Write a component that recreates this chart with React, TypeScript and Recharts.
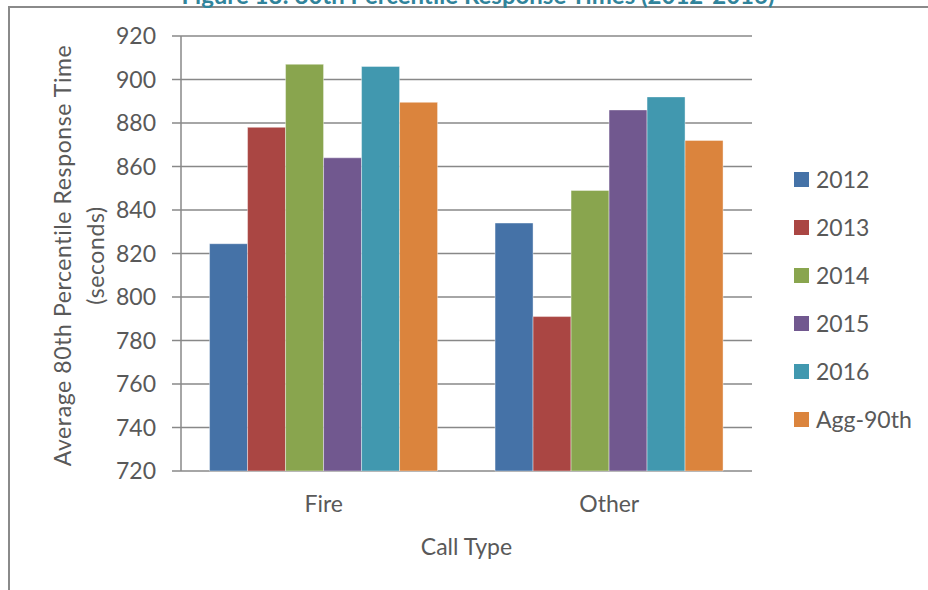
import { BarChart, Bar, XAxis, YAxis, CartesianGrid, Legend } from 'recharts';

// Average 80th percentile response time (seconds) by call type
const callTypes = ['Fire', 'Other'];
const seriesNames = ['2012', '2013', '2014', '2015', '2016', 'Agg-90th'];
const y2012 = [824.5, 834];
const y2013 = [878, 791];
const y2014 = [907, 849];
const y2015 = [864, 886];
const y2016 = [906, 892];
const agg90th = [889.5, 872];
const yTicks = [720, 740, 760, 780, 800, 820, 840, 860, 880, 900, 920];

const seriesValues = [y2012, y2013, y2014, y2015, y2016, agg90th];
const COLORS = ['#4572A7', '#AA4643', '#89A54E', '#71588F', '#4198AF', '#DB843D'];

const data = callTypes.map((type, i) => {
  const row: Record<string, string | number> = { type };
  seriesNames.forEach((name, s) => {
    row[name] = seriesValues[s][i];
  });
  return row;
});

const FONT = 'Lato, "Open Sans", sans-serif';
const TEXT = '#595959';
const LINE = '#888888';
const FS = 23;

function LegendList({ payload }: any) {
  return (
    <div style={{ fontFamily: FONT }}>
      {(payload || []).map((item: any) => (
        <div key={item.value} style={{ display: 'flex', alignItems: 'center', height: 48 }}>
          <span style={{ width: 15, height: 15, background: item.color, marginRight: 7 }} />
          <span style={{ fontSize: FS, color: TEXT }}>{item.value}</span>
        </div>
      ))}
    </div>
  );
}

function YTitle({ viewBox }: any) {
  const cy = viewBox.y + viewBox.height / 2 + 2;
  const lines = [
    { x: 62, text: 'Average 80th Percentile Response Time' },
    { x: 95, text: '(seconds)' },
  ];
  return (
    <g>
      {lines.map((l) => (
        <text
          key={l.text}
          x={l.x}
          y={cy}
          transform={`rotate(-90, ${l.x}, ${cy})`}
          textAnchor="middle"
          dominantBaseline="central"
          fill={TEXT}
          fontSize={FS}
          letterSpacing={0.6}
          fontFamily={FONT}
        >
          {l.text}
        </text>
      ))}
    </g>
  );
}

function XTitle({ viewBox }: any) {
  return (
    <text
      x={viewBox.x + viewBox.width / 2}
      y={viewBox.y + 84}
      textAnchor="middle"
      fill={TEXT}
      fontSize={FS}
      fontFamily={FONT}
    >
      Call Type
    </text>
  );
}

export default function App() {
  return (
    <div style={{ position: 'fixed', left: 0, top: 0, width: 928, height: 590, overflow: 'hidden', background: '#fff' }}>
      <div
        style={{
          position: 'absolute',
          left: 8,
          top: 6,
          width: 1400,
          height: 900,
          border: '2px solid #8a8a8a',
        }}
      />
      <div
        style={{
          position: 'absolute',
          left: 0,
          width: 956,
          top: -20,
          textAlign: 'center',
          fontFamily: FONT,
          fontWeight: 700,
          fontSize: 24,
          color: '#31849B',
          whiteSpace: 'nowrap',
        }}
      >
        Figure 13: 80th Percentile Response Times (2012-2016)
      </div>
      <div style={{ position: 'absolute', left: 0, top: 0 }}>
        <BarChart
          width={928}
          height={590}
          data={data}
          margin={{ top: 36, right: 176, left: 0, bottom: 0 }}
          barCategoryGap="10%"
          barGap={0}
        >
          <CartesianGrid vertical={false} stroke={LINE} strokeWidth={1.5} />
          <XAxis
            xAxisId="edge"
            type="number"
            domain={[0, 2]}
            ticks={[0, 1, 2]}
            height={0}
            tick={false}
            tickSize={9}
            stroke={LINE}
            strokeWidth={1.5}
          />
          <XAxis
            xAxisId="cat"
            dataKey="type"
            height={119}
            axisLine={false}
            tickLine={false}
            tickSize={0}
            tickMargin={25}
            tick={{ fill: TEXT, fontSize: FS, fontFamily: FONT }}
            label={{ content: XTitle }}
          />
          <YAxis
            width={181}
            domain={[720, 920]}
            ticks={yTicks}
            interval={0}
            tickSize={9}
            tickMargin={16}
            stroke={LINE}
            strokeWidth={1.5}
            tick={{ fill: TEXT, fontSize: FS, fontFamily: FONT }}
            label={{ content: YTitle }}
          />
          <Legend
            layout="vertical"
            align="center"
            verticalAlign="middle"
            wrapperStyle={{ left: 794, top: 155, width: 130 }}
            content={<LegendList />}
          />
          {seriesNames.map((name, i) => (
            <Bar
              key={name}
              xAxisId="cat"
              dataKey={name}
              name={name}
              fill={COLORS[i]}
              stroke="#ffffff"
              strokeOpacity={0.4}
              strokeWidth={1}
              isAnimationActive={false}
            />
          ))}
        </BarChart>
      </div>
    </div>
  );
}
